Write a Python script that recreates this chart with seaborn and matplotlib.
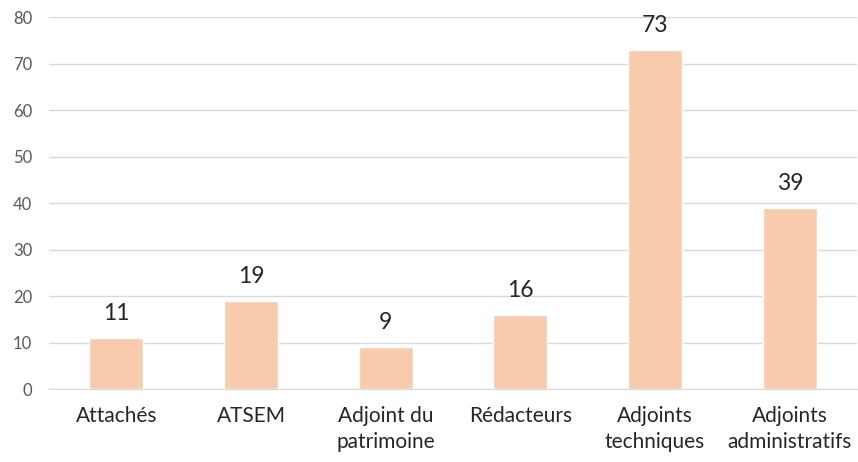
# Effectifs par cadre d'emploi - diagramme en barres
import seaborn as sns
import matplotlib.pyplot as plt
import pandas as pd

categories = ["Attachés", "ATSEM", "Adjoint du\npatrimoine", "Rédacteurs",
              "Adjoints\ntechniques", "Adjoints\nadministratifs"]
effectifs = [11, 19, 9, 16, 73, 39]
y_ticks = [0, 10, 20, 30, 40, 50, 60, 70, 80]

df = pd.DataFrame({"cadre": categories, "effectif": effectifs})

sns.set_style("white")
plt.rcParams["font.family"] = ["Lato", "DejaVu Sans"]

fig = plt.figure(figsize=(8.58, 4.62), dpi=100)
ax = fig.add_axes([0.057, 0.158, 0.942, 0.805])

sns.barplot(data=df, x="cadre", y="effectif", color="#F8CBAD",
            width=0.4, saturation=1, ax=ax, zorder=3)

for i, v in enumerate(effectifs):
    ax.annotate(str(v), (i, v), xytext=(0, 10), textcoords="offset points",
                ha="center", va="bottom", fontsize=16.5, color="#262626")

ax.set_ylim(0, 80)
ax.set_yticks(y_ticks)
ax.yaxis.grid(True, color="#D9D9D9", linewidth=1, zorder=0)
ax.set_xlabel("")
ax.set_ylabel("")
ax.tick_params(axis="y", labelsize=12, colors="#595959", length=0, pad=12)
ax.tick_params(axis="x", labelsize=15, labelcolor="#262626", length=0, pad=12)
for lbl in ax.get_xticklabels():
    lbl.set_linespacing(1.4)
for s in ["top", "right", "left"]:
    ax.spines[s].set_visible(False)
ax.spines["bottom"].set_color("#D9D9D9")

fig.savefig("out.png", dpi=100)
